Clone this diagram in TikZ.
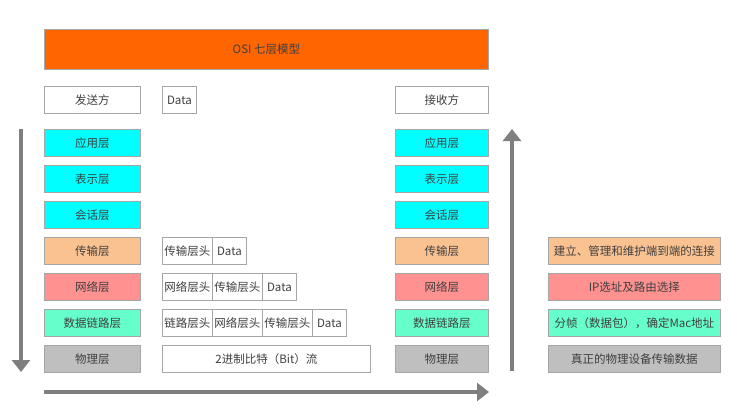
\documentclass[tikz,border=0pt]{standalone}
\usepackage{fontspec}
\setmainfont{Noto Sans CJK SC}
\usetikzlibrary{arrows.meta}
\definecolor{osiorange}{HTML}{FF6600}
\definecolor{appcyan}{HTML}{00FFFF}
\definecolor{tpeach}{HTML}{FAC291}
\definecolor{netpink}{HTML}{FF9191}
\definecolor{linkgreen}{HTML}{66FFCC}
\definecolor{phygray}{HTML}{BFBFBF}
\definecolor{boxline}{HTML}{A6A6A6}
\definecolor{arrowgray}{HTML}{7F7F7F}
\definecolor{txtgray}{HTML}{3F3F3F}

\begin{document}
\begin{tikzpicture}[x=1pt,y=-1pt,
    every node/.style={font=\fontsize{11.5}{13}\selectfont, text=txtgray,
      inner sep=0pt, anchor=north west},
    box/.style={draw=boxline, line width=0.8pt, minimum height=27pt},
    lleft/.style={box, minimum width=96pt},
    lright/.style={box, minimum width=93pt},
    hdr/.style={box, fill=white, minimum width=50pt},
    dat/.style={box, fill=white, minimum width=34pt},
    note/.style={box, minimum width=172pt},
    flow/.style={draw=arrowgray, line width=4pt,
      -{Triangle[width=18pt,length=12pt]}}]
  \useasboundingbox (0,0) rectangle (742,412);
  % title bar
  \node[box, fill=osiorange, minimum width=444pt, minimum height=40pt]
    (title) at (44,29) {OSI 七层模型};
  % sender / receiver
  \node[lleft] (send) at (44,86) {发送方};
  \node[dat] (data0) at (162,86) {Data};
  \node[lright] (recv) at (395,86) {接收方};
  % sender stack
  \node[lleft, fill=appcyan]   (sapp)  at (44,129) {应用层};
  \node[lleft, fill=appcyan]   (spre)  at (44,165) {表示层};
  \node[lleft, fill=appcyan]   (sses)  at (44,201) {会话层};
  \node[lleft, fill=tpeach]    (strn)  at (44,237) {传输层};
  \node[lleft, fill=netpink]   (snet)  at (44,273) {网络层};
  \node[lleft, fill=linkgreen] (slnk)  at (44,309) {数据链路层};
  \node[lleft, fill=phygray]   (sphy)  at (44,345) {物理层};
  % encapsulation
  \node[hdr] (t1h) at (162,237) {传输层头};
  \node[dat] (t1d) at (212,237) {Data};
  \node[hdr] (n2h) at (162,273) {网络层头};
  \node[hdr] (n2t) at (212,273) {传输层头};
  \node[dat] (n2d) at (262,273) {Data};
  \node[hdr] (l3h) at (162,309) {链路层头};
  \node[hdr] (l3n) at (212,309) {网络层头};
  \node[hdr] (l3t) at (262,309) {传输层头};
  \node[dat] (l3d) at (312,309) {Data};
  \node[box, fill=white, minimum width=208pt] (bits) at (162,345) {2进制比特（Bit）流};
  % receiver stack
  \node[lright, fill=appcyan]   (rapp)  at (395,129) {应用层};
  \node[lright, fill=appcyan]   (rpre)  at (395,165) {表示层};
  \node[lright, fill=appcyan]   (rses)  at (395,201) {会话层};
  \node[lright, fill=tpeach]    (rtrn)  at (395,237) {传输层};
  \node[lright, fill=netpink]   (rnet)  at (395,273) {网络层};
  \node[lright, fill=linkgreen] (rlnk)  at (395,309) {数据链路层};
  \node[lright, fill=phygray]   (rphy)  at (395,345) {物理层};
  % what each layer does
  \node[note, fill=tpeach]    (dtrn) at (548,237) {建立、管理和维护端到端的连接};
  \node[note, fill=netpink]   (dnet) at (548,273) {IP选址及路由选择};
  \node[note, fill=linkgreen] (dlnk) at (548,309) {分帧（数据包），确定Mac地址};
  \node[note, fill=phygray]   (dphy) at (548,345) {真正的物理设备传输数据};
  % flow arrows
  \coordinate (down1) at (21,129);
  \coordinate (down2) at (21,372);
  \coordinate (across1) at (44,392);
  \coordinate (across2) at (489,392);
  \coordinate (up1) at (512,371);
  \coordinate (up2) at (512,129);
  \draw[flow] (down1) -- (down2);
  \draw[flow] (across1) -- (across2);
  \draw[flow] (up1) -- (up2);
\end{tikzpicture}
\end{document}
